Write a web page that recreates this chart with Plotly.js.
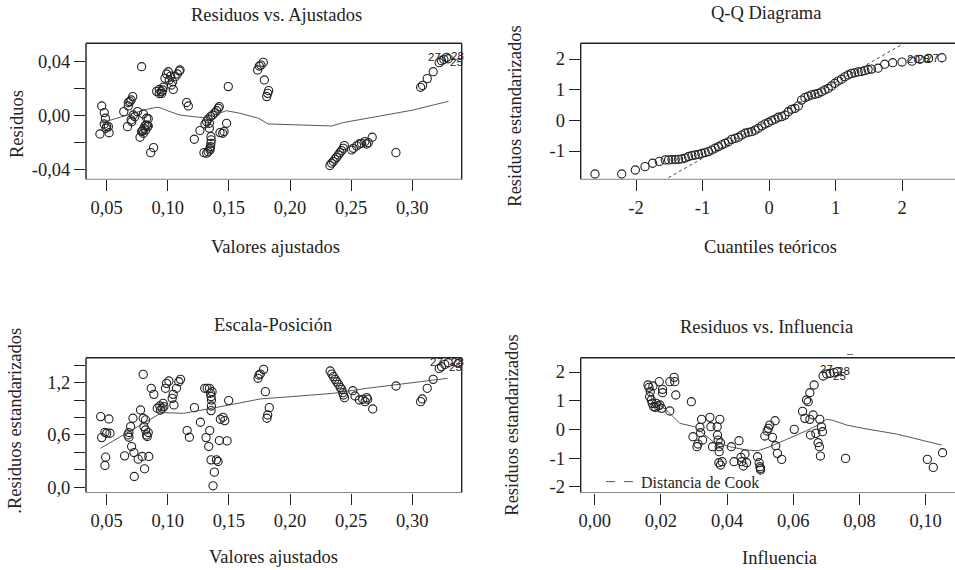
<!DOCTYPE html>
<html>
<head>
<meta charset="utf-8">
<script src="https://cdn.plot.ly/plotly-3.0.1.min.js"></script>
<style>html,body{margin:0;padding:0;background:#fff}#chart{width:955px;height:570px}</style>
</head>
<body>
<div id="chart"></div>
<script>
// ---------- Residuos vs. Ajustados ----------
var rfX = [0.0445,0.046,0.048,0.049,0.048,0.05,0.0514,0.052,0.0495,
  0.064,0.067,0.0677,0.069,0.070,0.0713,0.0677,0.070,0.0718,0.073,0.0705,
  0.0753,0.0786,0.0773,0.0786,0.080,0.0805,0.0813,0.0827,0.0827,0.084,0.080,0.082,0.0835,0.084,0.0794,0.086,0.0884,
  0.0909,0.093,0.0947,0.0958,0.0963,0.095,0.093,0.0977,0.099,0.1004,0.1012,0.103,0.1045,0.104,0.106,0.1078,0.1094,0.110,0.1024,
  0.1154,0.1168,0.1217,0.1263,
  0.1296,0.1318,0.133,0.1345,0.135,0.1353,0.1355,0.1353,0.1345,0.134,0.1304,0.1318,0.133,0.135,0.1367,0.1386,0.14,0.1413,0.1421,0.134,
  0.1427,0.1449,0.146,0.1481,0.1495,
  0.1735,0.1749,0.1762,0.1781,0.179,0.1809,0.1817,0.1825,
  0.2326,0.234,0.2354,0.2367,0.2381,0.2395,0.2408,0.2422,0.2435,0.2444,
  0.2504,0.2518,0.2545,0.2566,0.2585,0.2612,0.2626,0.264,0.2672,0.2866,
  0.3068,0.3084,0.3122,0.3171,0.322,0.3239,0.3258,0.328,0.3294];
var rfY = [-0.0139,0.0068,0.0019,-0.0023,-0.0065,-0.0085,-0.0085,-0.013,-0.0097,
  0.0026,-0.0085,0.0068,0.010,0.0112,0.0137,0.0093,-0.0035,0.0001,-0.0011,-0.0048,
  0.0026,0.0358,-0.0163,-0.0121,0.0009,-0.0097,-0.008,-0.0072,-0.0023,-0.0026,-0.0134,-0.011,-0.0085,-0.008,-0.0114,-0.0277,-0.024,
  0.0176,0.019,0.0174,0.0186,0.0206,0.016,0.016,0.0272,0.0304,0.0321,0.026,0.0223,0.019,0.0247,0.0284,0.0304,0.0326,0.0334,0.0289,
  0.0093,0.0068,-0.0178,-0.0114,
  -0.0277,-0.0281,-0.027,-0.0257,-0.0232,-0.0208,-0.0183,-0.0158,-0.0245,-0.0097,-0.0065,-0.0048,-0.0028,-0.0011,0.0001,0.0019,0.0033,0.0051,0.0063,-0.006,
  -0.0129,-0.0134,-0.0121,-0.006,0.0211,
  0.0334,0.0363,0.037,0.039,0.026,0.0137,0.0161,0.0181,
  -0.0372,-0.0355,-0.0343,-0.0326,-0.0311,-0.0294,-0.0277,-0.0262,-0.0245,-0.0225,
  -0.0257,-0.0245,-0.0227,-0.0213,-0.0208,-0.0195,-0.0213,-0.0203,-0.0163,-0.0277,
  0.0206,0.022,0.027,0.0321,0.0388,0.0402,0.0412,0.0427,0.0417];
var rfSmoothX = [0.0445,0.058,0.0718,0.0827,0.0909,0.0936,0.1018,0.11,0.1209,0.129,0.1372,0.1481,0.159,0.174,0.1822,0.189,0.2,0.2163,0.234,0.2435,0.2626,0.279,0.3008,0.3171,0.3296];
var rfSmoothY = [-0.006,-0.0023,0.0014,0.0043,0.0058,0.0055,0.0026,0.0001,-0.0011,-0.0018,0.0001,0.0033,0.0014,-0.0023,-0.0065,-0.0067,-0.0072,-0.008,-0.008,-0.0055,-0.0023,0.0001,0.0038,0.0075,0.0102];

// ---------- Q-Q Diagrama ----------
var qqX = [-2.617,-2.215,-2.01,-1.865,-1.75,-1.65,-1.56,-1.51,-1.46,-1.41,-1.36,-1.31,-1.26,-1.21,-1.16,-1.11,-1.06,-1.01,-0.96,-0.91,
  -0.86,-0.81,-0.76,-0.71,-0.66,-0.61,-0.56,-0.51,-0.46,-0.41,-0.36,-0.31,-0.26,-0.21,-0.16,-0.11,-0.06,-0.01,0.04,0.09,
  0.14,0.19,0.24,0.29,0.34,0.39,0.44,0.49,0.54,0.59,0.64,0.69,0.74,0.79,0.84,0.89,0.94,0.99,1.04,1.09,
  1.14,1.19,1.24,1.29,1.34,1.39,1.44,1.49,1.54,1.64,1.74,1.86,2.0,2.15,2.27,2.40,2.60];
var qqY = [-1.75,-1.75,-1.62,-1.51,-1.40,-1.34,-1.29,-1.29,-1.28,-1.28,-1.27,-1.26,-1.23,-1.18,-1.15,-1.13,-1.11,-1.08,-1.05,-1.02,
  -0.97,-0.91,-0.86,-0.80,-0.75,-0.70,-0.62,-0.59,-0.55,-0.48,-0.42,-0.39,-0.37,-0.32,-0.26,-0.18,-0.12,-0.07,-0.01,0.04,
  0.10,0.12,0.17,0.28,0.36,0.39,0.47,0.66,0.74,0.79,0.83,0.85,0.88,0.93,0.99,1.04,1.12,1.21,1.28,1.34,
  1.42,1.48,1.53,1.55,1.58,1.59,1.62,1.66,1.67,1.70,1.83,1.88,1.90,1.93,1.99,2.02,2.04];
var qqLineX = [-3, 3];
var qqLineY = [-3.71, 3.71];

// ---------- Escala-Posición ----------
var slX = [0.0451,0.0459,0.0486,0.05,0.0492,0.0486,0.0519,0.0527,
  0.0647,0.0674,0.0682,0.0682,0.0696,0.0704,0.0715,0.0723,0.0726,0.0758,0.0777,0.0791,0.0799,0.0799,0.0805,0.081,0.0818,0.0818,0.0826,0.084,0.0845,0.0832,
  0.0865,0.0886,0.0914,0.0935,0.0941,0.0954,0.0968,0.0962,0.0981,0.099,0.1009,0.1036,0.1044,0.105,0.1071,0.109,0.1104,
  0.1158,0.1177,0.1218,0.1267,
  0.1302,0.1322,0.1341,0.1313,0.1335,0.1343,0.1349,0.1354,0.1357,0.1357,0.1354,0.1354,0.1362,0.1381,0.137,0.1398,0.1411,0.1422,0.143,0.1452,0.1466,0.1485,0.1498,
  0.1738,0.1746,0.1757,0.1784,0.1798,0.1811,0.1817,0.183,
  0.2328,0.2342,0.2355,0.2369,0.2382,0.2396,0.241,0.2423,0.2431,0.2445,0.2437,
  0.2513,0.2532,0.2567,0.2595,0.2614,0.2627,0.2635,0.2676,0.2867,
  0.3068,0.3082,0.3122,0.3171,0.322,0.3239,0.3266,0.3294,0.3375];
var slY = [0.81,0.569,0.63,0.619,0.344,0.248,0.783,0.619,
  0.359,0.60,0.573,0.627,0.695,0.466,0.791,0.397,0.122,0.321,0.886,0.352,1.295,0.791,0.695,0.21,0.772,0.657,0.60,0.627,0.352,0.581,
  1.135,1.066,0.906,0.932,0.886,0.906,0.925,0.963,1.135,1.192,1.219,1.02,1.066,0.944,1.135,1.211,1.238,
  0.65,0.573,0.913,0.745,
  1.135,1.135,1.135,0.569,0.466,0.65,1.078,1.04,1.001,0.932,0.879,0.313,1.097,0.172,0.015,0.313,0.294,0.535,0.78,0.802,0.764,0.531,0.994,
  1.25,1.288,1.299,1.353,1.097,0.791,0.829,0.913,
  1.334,1.299,1.269,1.238,1.211,1.181,1.146,1.123,1.085,1.028,1.058,
  1.108,1.047,1.001,1.009,0.982,1.028,1.009,0.898,1.162,
  0.982,1.013,1.135,1.238,1.364,1.383,1.41,1.429,1.421];
var slSmoothX = [0.0451,0.0941,0.0968,0.1131,0.1403,0.1539,0.1757,0.2002,0.2355,0.2627,0.2899,0.3288];
var slSmoothY = [0.447,0.848,0.856,0.848,0.917,0.955,1.013,1.039,1.078,1.135,1.181,1.25];

// ---------- Residuos vs. Influencia ----------
var rlX = [0.0161,0.0164,0.0168,0.0166,0.0171,0.0174,0.0178,0.0184,0.0192,0.0197,0.0202,0.0186,0.0176,0.0195,0.0205,0.0205,
  0.0227,0.0227,0.024,0.0242,0.0245,0.0292,0.0297,0.0309,0.0312,0.0318,0.0323,0.032,0.0326,
  0.0348,0.0351,0.0356,0.037,0.0371,0.0373,0.0376,0.0376,0.0378,0.038,0.0375,0.038,0.0385,
  0.0413,0.0421,0.0436,0.0442,0.0444,0.0449,0.0454,0.0459,
  0.0492,0.0497,0.0499,0.0501,0.0501,0.0514,0.0521,0.0525,0.0529,0.0537,0.0545,0.0547,0.0552,0.0565,
  0.0603,0.0628,0.0635,0.064,0.0645,0.065,0.065,0.0652,0.066,0.0663,0.0668,0.0675,0.0679,0.068,0.0682,0.0685,0.0688,
  0.069,0.0701,0.0711,0.0723,0.0733,0.0758,0.1005,0.1023,0.1051];
var rlY = [1.547,1.465,1.314,1.14,1.023,0.907,0.791,0.767,0.814,0.849,0.733,0.907,1.512,1.663,1.395,1.279,
  0.64,1.663,1.814,1.663,1.198,0.965,-0.256,-0.605,-0.512,0.07,0.349,-0.116,-0.372,
  0.419,0.093,-0.605,0.093,-0.198,-0.372,-0.779,-0.605,0.349,-0.465,-1.163,-1.244,-1.128,
  -0.605,-1.128,-0.395,-0.977,-1.128,-1.279,-0.86,-1.163,
  -0.953,-1.163,-1.302,-1.419,-1.36,-0.233,-0.058,0.035,0.151,-0.279,0.302,-0.57,-0.837,-1.047,
  0.0,0.628,0.384,1.023,0.965,1.279,0.349,-0.198,0.5,1.547,-0.14,-0.465,-0.605,0.349,-0.93,0.093,-0.081,
  1.86,1.93,1.953,1.977,2.012,-1.012,-1.047,-1.326,-0.814];
var rlSmoothX = [0.0161,0.0176,0.0217,0.0257,0.0302,0.0358,0.0408,0.0459,0.0494,0.0529,0.058,0.064,0.068,0.0701,0.0716,0.0761,0.0811,0.0912,0.1048];
var rlSmoothY = [1.314,1.023,0.674,0.209,0.093,-0.43,-0.605,-0.721,-0.744,-0.605,-0.349,-0.047,0.186,0.349,0.326,0.151,0.035,-0.163,-0.547];

// ---------- tick labels ----------
var fitTickVals = [0.05,0.10,0.15,0.20,0.25,0.30];
var fitTickText = ['0,05','0,10','0,15','0,20','0,25','0,30'];
var resTickVals = [-0.04,-0.02,0,0.02,0.04];
var resTickText = ['-0,04','','0,00','','0,04'];
var qqXTickVals = [-2,-1,0,1,2];
var qqXTickText = ['-2','-1','0','1','2'];
var qqYTickVals = [-1,0,1,2];
var qqYTickText = ['-1','0','1','2'];
var slTickVals = [0,0.2,0.4,0.6,0.8,1.0,1.2,1.4];
var slTickText = ['0,0','','','0,6','','','1,2',''];
var levTickVals = [0,0.02,0.04,0.06,0.08,0.10];
var levTickText = ['0,00','0,02','0,04','0,06','0,08','0,10'];
var rlYTickVals = [-2,-1,0,1,2];
var rlYTickText = ['-2','-1','0','1','2'];

var FONT = 'Liberation Serif, Times New Roman, serif';
var INK = '#222';
var mk = {symbol:'circle-open', size:8.2, color:INK, line:{width:1.1, color:INK}};
var smooth = {color:'#444', width:0.9};

var traces = [
  {x:rfX, y:rfY, xaxis:'x', yaxis:'y', mode:'markers', marker:mk, showlegend:false, cliponaxis:true},
  {x:rfSmoothX, y:rfSmoothY, xaxis:'x', yaxis:'y', mode:'lines', line:smooth, showlegend:false},
  {x:qqLineX, y:qqLineY, xaxis:'x2', yaxis:'y2', mode:'lines', line:{color:'#444', width:1, dash:'dot'}, showlegend:false},
  {x:qqX, y:qqY, xaxis:'x2', yaxis:'y2', mode:'markers', marker:mk, showlegend:false, cliponaxis:true},
  {x:slX, y:slY, xaxis:'x3', yaxis:'y3', mode:'markers', marker:mk, showlegend:false, cliponaxis:true},
  {x:slSmoothX, y:slSmoothY, xaxis:'x3', yaxis:'y3', mode:'lines', line:smooth, showlegend:false},
  {x:rlX, y:rlY, xaxis:'x4', yaxis:'y4', mode:'markers', marker:mk, showlegend:false, cliponaxis:true},
  {x:rlSmoothX, y:rlSmoothY, xaxis:'x4', yaxis:'y4', mode:'lines', line:smooth, showlegend:false},
  {x:[null], y:[null], xaxis:'x4', yaxis:'y4', mode:'lines', name:'Distancia de Cook', line:{color:'#555', width:1, dash:'dash'}, showlegend:true}
];

function ax(domain, range, tv, tt, anchor, extra){
  var o = {domain:domain, range:range, tickmode:'array', tickvals:tv, ticktext:tt, ticks:'outside', ticklen:11,
    tickwidth:1, tickcolor:INK, showline:false, showgrid:false, zeroline:false, anchor:anchor,
    tickfont:{family:FONT, size:18.5, color:INK}, fixedrange:true};
  if (extra) for (var k in extra) o[k] = extra[k];
  return o;
}
var dxL = [86/955, 461.7/955], dxR = [580.7/955, 1];
var dyT = [1-179.3/570, 1-43.3/570], dyB = [1-492.5/570, 1-357.7/570];

function box(xr, yr, right){
  var s = [
    {type:'line', xref:xr+' domain', yref:yr+' domain', x0:0, x1:1, y0:1, y1:1, line:{color:INK, width:1.4}},
    {type:'line', xref:xr+' domain', yref:yr+' domain', x0:0, x1:0, y0:0, y1:1, line:{color:INK, width:1.4}},
    {type:'line', xref:xr+' domain', yref:yr+' domain', x0:0, x1:1, y0:0, y1:0, line:{color:'#888', width:1}}
  ];
  if (right) s.push({type:'line', xref:xr+' domain', yref:yr+' domain', x0:1, x1:1, y0:0, y1:1, line:{color:INK, width:1.4}});
  return s;
}

function ann(text, px, py, angle, size){
  return {text:text, xref:'paper', yref:'paper', x:px/955, y:1-py/570, xanchor:'center', yanchor:'middle',
    showarrow:false, textangle:angle||0, font:{family:FONT, size:size||18.5, color:INK}};
}
function lab(text, xr, yr, x, y){
  return {text:text, xref:xr, yref:yr, x:x, y:y, xanchor:'center', yanchor:'middle', showarrow:false,
    font:{family:'Liberation Sans, Arial, sans-serif', size:11.5, color:INK}};
}

var layout = {
  width:955, height:570, margin:{l:0, r:0, t:0, b:0}, paper_bgcolor:'#fff', plot_bgcolor:'#fff',
  font:{family:FONT, color:INK},
  xaxis: ax(dxL, [0.0331, 0.3404], fitTickVals, fitTickText, 'y'),
  yaxis: ax(dyT, [-0.0474, 0.0531], resTickVals, resTickText, 'x'),
  xaxis2: ax(dxR, [-2.832, 2.797], qqXTickVals, qqXTickText, 'y2'),
  yaxis2: ax(dyT, [-1.923, 2.512], qqYTickVals, qqYTickText, 'x2'),
  xaxis3: ax(dxL, [0.0331, 0.3404], fitTickVals, fitTickText, 'y3'),
  yaxis3: ax(dyB, [-0.062, 1.487], slTickVals, slTickText, 'x3'),
  xaxis4: ax(dxR, [-0.00423, 0.10886], levTickVals, levTickText, 'y4'),
  yaxis4: ax(dyB, [-2.202, 2.499], rlYTickVals, rlYTickText, 'x4'),
  showlegend:true,
  legend:{x:601/955, y:1-481.7/570, xanchor:'left', yanchor:'middle', bgcolor:'rgba(0,0,0,0)',
    font:{family:FONT, size:16, color:INK}},
  shapes: [].concat(box('x','y',true), box('x2','y2',false), box('x3','y3',true), box('x4','y4',false)),
  annotations: [
    ann('Residuos vs. Ajustados', 276.7, 15),
    ann('Valores ajustados', 275.5, 246.7),
    ann('Residuos', 16.5, 124.5, -90),
    ann('Q-Q Diagrama', 766, 13.3),
    ann('Cuantiles teóricos', 770, 246.7),
    ann('Residuos estandarizados', 515, 116.7, -90),
    ann('Escala-Posición', 272.5, 325),
    ann('Valores ajustados', 273, 556.7),
    ann('.Residuos estandarizados', 15, 420.7, -90),
    ann('Residuos vs. Influencia', 766, 326.7),
    ann('Influencia', 779, 558),
    ann('Residuos estandarizados', 511.7, 425, -90),
    ann('–', 850, 352.7, 0, 12),
    lab('27','x','y',0.318,0.0427), lab('28','x','y',0.3368,0.0437), lab('25','x','y',0.3362,0.0393),
    lab('20','x2','y2',2.17,2.0), lab('28','x2','y2',2.33,2.0), lab('27','x2','y2',2.46,2.03),
    lab('27','x3','y3',0.3199,1.44), lab('28','x3','y3',0.3367,1.44), lab('25','x3','y3',0.3356,1.376),
    lab('27','x4','y4',0.0701,2.10), lab('28','x4','y4',0.0753,2.05), lab('25','x4','y4',0.0741,1.86)
  ]
};

Plotly.newPlot('chart', traces, layout, {displayModeBar:false, staticPlot:true});
</script>
</body>
</html>
